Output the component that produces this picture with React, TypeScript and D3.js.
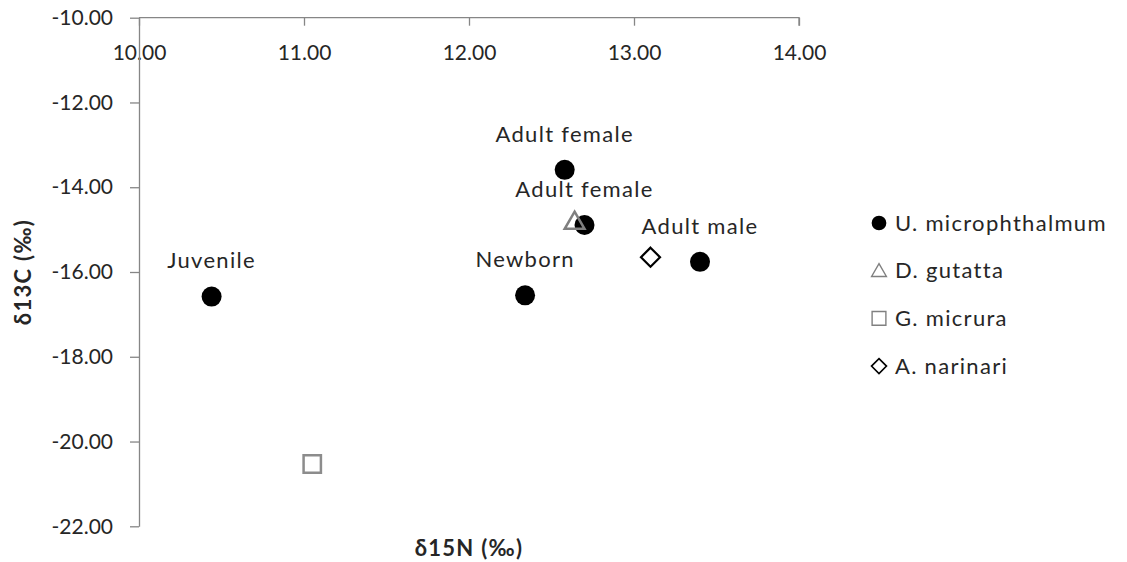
import React, { useEffect, useRef } from 'react';
import * as d3 from 'd3';

const width = 1127;
const height = 562;

// U. microphthalmum (labelled points)
const uLabels = ['Juvenile', 'Newborn', 'Adult female', 'Adult female', 'Adult male'];
const uN = [10.44, 12.34, 12.58, 12.7, 13.4];
const uC = [-16.58, -16.55, -13.59, -14.89, -15.76];

// single-point species
const gutattaN = [12.64];
const gutattaC = [-14.8];
const micruraN = [11.05];
const micruraC = [-20.53];
const narinariN = [13.1];
const narinariC = [-15.65];

const legendNames = ['U. microphthalmum', 'D. gutatta', 'G. micrura', 'A. narinari'];

const xTicks = [10, 11, 12, 13, 14];
const yTicks = [-10, -12, -14, -16, -18, -20, -22];

const font = 'Lato, "Open Sans", sans-serif';
const tickSize = 21;
const textSize = 22;
const spacing = '1.3px';
const textColor = '#262626';
const axisColor = '#868686';

const App = () => {
  const svgRef = useRef<SVGSVGElement>(null);

  useEffect(() => {
    const svg = d3.select(svgRef.current);
    svg.selectAll('*').remove();

    const x = d3.scaleLinear().domain([10, 14]).range([139, 799]);
    const y = d3.scaleLinear().domain([-10, -22]).range([17.7, 526.3]);

    // axes
    const xAxis = svg.append('g')
      .attr('transform', `translate(0,${y(-10)})`)
      .call(d3.axisBottom(x).tickValues(xTicks).tickFormat(d => (+d).toFixed(2)).tickSizeInner(8).tickSizeOuter(8).tickPadding(19));
    const yAxis = svg.append('g')
      .attr('transform', `translate(${x(10)},0)`)
      .call(d3.axisLeft(y).tickValues(yTicks).tickFormat(d => (+d).toFixed(2)).tickSizeInner(9).tickSizeOuter(0).tickPadding(17));

    [xAxis, yAxis].forEach(g => {
      g.select('.domain').attr('stroke', axisColor).attr('stroke-width', 1.3);
      g.selectAll('.tick line').attr('stroke', axisColor).attr('stroke-width', 1.3);
      g.selectAll('.tick text')
        .attr('fill', textColor)
        .style('font-family', font)
        .style('font-size', `${tickSize}px`);
    });
    // x-axis outer tick at the right end only (no tick at left end over y axis)
    xAxis.select('.domain').attr('d', `M${x(10)},0H${x(14)}V8`);

    // axis titles
    svg.append('text')
      .attr('transform', `translate(23,${(y(-10) + y(-22)) / 2}) rotate(-90)`)
      .attr('text-anchor', 'middle')
      .attr('dy', '0.35em')
      .attr('fill', textColor)
      .style('font-family', font)
      .style('font-size', `${textSize}px`)
      .style('letter-spacing', spacing)
      .style('font-weight', 'bold')
      .text('δ13C (‰)');
    svg.append('text')
      .attr('x', (x(10) + x(14)) / 2)
      .attr('y', 548)
      .attr('text-anchor', 'middle')
      .attr('dy', '0.35em')
      .attr('fill', textColor)
      .style('font-family', font)
      .style('font-size', `${textSize}px`)
      .style('letter-spacing', spacing)
      .style('font-weight', 'bold')
      .text('δ15N (‰)');

    const triangle = d3.symbol().type(d3.symbolTriangle).size(170);
    const square = d3.symbol().type(d3.symbolSquare).size(300);
    const diamond = (r: number) => `M0,${-r}L${r},0L0,${r}L${-r},0Z`;

    // series 1: U. microphthalmum
    const uData = uN.map((n, i) => ({ n, c: uC[i], label: uLabels[i] }));
    svg.append('g')
      .selectAll('circle')
      .data(uData)
      .join('circle')
        .attr('cx', d => x(d.n))
        .attr('cy', d => y(d.c))
        .attr('r', 10)
        .attr('fill', '#000');

    // series 2: D. gutatta
    svg.append('g')
      .selectAll('path')
      .data(gutattaN.map((n, i) => ({ n, c: gutattaC[i] })))
      .join('path')
        .attr('transform', d => `translate(${x(d.n)},${y(d.c) + 2})`)
        .attr('d', triangle())
        .attr('fill', 'none')
        .attr('stroke', '#7f7f7f')
        .attr('stroke-width', 2.5);

    // series 3: G. micrura
    svg.append('g')
      .selectAll('path')
      .data(micruraN.map((n, i) => ({ n, c: micruraC[i] })))
      .join('path')
        .attr('transform', d => `translate(${x(d.n)},${y(d.c)})`)
        .attr('d', square())
        .attr('fill', 'none')
        .attr('stroke', '#8c8c8c')
        .attr('stroke-width', 2.5);

    // series 4: A. narinari
    svg.append('g')
      .selectAll('path')
      .data(narinariN.map((n, i) => ({ n, c: narinariC[i] })))
      .join('path')
        .attr('transform', d => `translate(${x(d.n)},${y(d.c)})`)
        .attr('d', diamond(9.5))
        .attr('fill', 'none')
        .attr('stroke', '#000')
        .attr('stroke-width', 2.2);

    // data labels above the U. microphthalmum points
    svg.append('g')
      .selectAll('text')
      .data(uData)
      .join('text')
        .attr('x', d => x(d.n))
        .attr('y', d => y(d.c) - 36)
        .attr('dy', '0.35em')
        .attr('text-anchor', 'middle')
        .attr('fill', textColor)
        .style('font-family', font)
        .style('font-size', `${textSize}px`)
        .style('letter-spacing', spacing)
        .text(d => d.label);

    // legend
    const legend = svg.append('g')
      .selectAll('g')
      .data(legendNames)
      .join('g')
        .attr('transform', (d, i) => `translate(879,${223 + i * 47.7})`);
    legend.append('path')
      .attr('d', (d, i) => {
        if (i === 0) return d3.symbol().type(d3.symbolCircle).size(170)();
        if (i === 1) return d3.symbol().type(d3.symbolTriangle).size(95)();
        if (i === 2) return d3.symbol().type(d3.symbolSquare).size(190)();
        return diamond(7.5);
      })
      .attr('transform', (d, i) => (i === 1 ? 'translate(0,1.5)' : null))
      .attr('fill', (d, i) => (i === 0 ? '#000' : 'none'))
      .attr('stroke', (d, i) => (i === 0 ? 'none' : i === 3 ? '#000' : '#808080'))
      .attr('stroke-width', (d, i) => (i === 3 ? 1.6 : 1.4));
    legend.append('text')
      .attr('x', 16)
      .attr('dy', '0.35em')
      .attr('fill', textColor)
      .style('font-family', font)
      .style('font-size', `${textSize}px`)
      .style('letter-spacing', spacing)
      .text(d => d);
  }, []);

  return (
    <svg
      ref={svgRef}
      width={width}
      height={height}
      style={{ position: 'absolute', left: 0, top: 0, background: '#fff' }}
    />
  );
};

export default App;
